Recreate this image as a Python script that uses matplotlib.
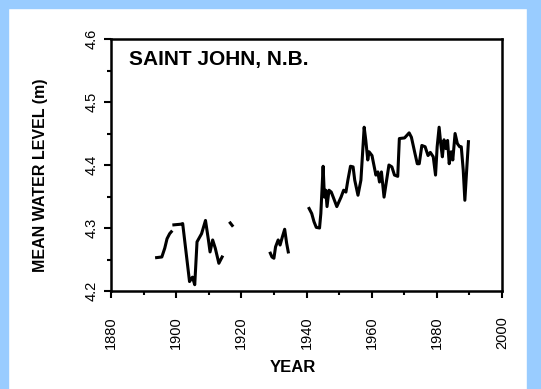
import matplotlib
matplotlib.use("Agg")
import matplotlib.pyplot as plt
import numpy as np
from matplotlib.patches import Rectangle

nan = np.nan

# annual mean water level, nan marks gaps in the record
years = [1894.0, 1895.6, 1896.5, 1897.2, 1898.0, 1898.5, nan,
         1899.3, 1901.4, 1902.0, 1904.1, 1905.0, 1905.7, 1906.4, 1907.8, 1909.0,
         1909.9, 1910.4, 1911.2, 1912.0, 1913.1, 1914.1, nan,
         1916.6, 1917.2, nan,
         1928.9, 1929.4, 1930.0, 1930.5, 1931.3, 1931.9, 1932.6, 1933.3, 1933.9, 1934.4, nan,
         1940.8, 1941.6, 1942.3, 1943.0, 1944.0, 1944.4, 1945.1, 1945.5, 1945.9,
         1946.3, 1946.9, 1947.6, 1948.2, 1949.3, 1950.6, 1951.4, 1952.1, 1952.7,
         1953.5, 1954.3, 1954.8, 1955.8, 1956.7, 1957.7, 1958.2, 1958.8, 1959.2,
         1960.1, 1960.6, 1961.3, 1961.9, 1962.4, 1963.0, 1963.8, 1964.5, 1965.3,
         1966.2, 1967.0, 1968.0, 1968.5, 1970.1, 1971.5, 1972.2, 1973.3, 1974.0,
         1974.6, 1975.4, 1976.4, 1977.3, 1978.0, 1978.9, 1979.6, 1980.1, 1980.7,
         1981.2, 1981.7, 1982.2, 1982.8, 1983.3, 1983.8, 1984.4, 1984.9, 1985.6,
         1986.3, 1987.0, 1987.5, 1988.1, 1988.6, 1989.1, 1989.7]
levels = [4.253, 4.254, 4.268, 4.283, 4.291, 4.294, nan,
          4.305, 4.306, 4.307, 4.215, 4.222, 4.210, 4.278, 4.291, 4.312,
          4.281, 4.262, 4.281, 4.268, 4.244, 4.254, nan,
          4.308, 4.304, nan,
          4.260, 4.254, 4.252, 4.270, 4.281, 4.273, 4.286, 4.298, 4.276, 4.262, nan,
          4.331, 4.323, 4.310, 4.301, 4.300, 4.323, 4.398, 4.349, 4.360,
          4.334, 4.360, 4.357, 4.349, 4.334, 4.349, 4.360, 4.357, 4.376,
          4.398, 4.397, 4.376, 4.352, 4.376, 4.460, 4.439, 4.408, 4.421,
          4.415, 4.402, 4.384, 4.389, 4.373, 4.389, 4.349, 4.373, 4.400,
          4.397, 4.384, 4.382, 4.442, 4.443, 4.451, 4.444, 4.418, 4.402,
          4.402, 4.431, 4.429, 4.415, 4.420, 4.413, 4.384, 4.429, 4.460,
          4.434, 4.413, 4.440, 4.426, 4.439, 4.402, 4.421, 4.408, 4.450,
          4.434, 4.429, 4.429, 4.392, 4.344, 4.387, 4.437]

xticks = [1880, 1900, 1920, 1940, 1960, 1980, 2000]
yticks = [4.2, 4.3, 4.4, 4.5, 4.6]

plt.rcParams['font.family'] = ['Liberation Sans', 'DejaVu Sans']

fig = plt.figure(figsize=(5.41, 3.89), dpi=100)
fig.patch.set_facecolor("white")
blue = "#99ccff"
# light blue frame around the scanned figure
fig.patches.append(Rectangle((0, 0), 8 / 541, 1, transform=fig.transFigure, color=blue, zorder=-1))
fig.patches.append(Rectangle((0, 1 - 8 / 389), 1, 8 / 389, transform=fig.transFigure, color=blue, zorder=-1))
fig.patches.append(Rectangle((527 / 541, 0), 14 / 541, 1, transform=fig.transFigure, color=blue, zorder=-1))

ax = fig.add_axes([111 / 541, 1 - 291 / 389, 391 / 541, 252 / 389])
ax.plot(years, levels, color="black", lw=2.2)

ax.set_xlim(1880, 2000)
ax.set_ylim(4.2, 4.6)
ax.set_xticks(xticks)
ax.set_xticks(np.arange(1890, 2000, 20), minor=True)
ax.set_yticks(yticks)
ax.set_yticks([4.25, 4.35, 4.45, 4.55], minor=True)
ax.set_yticklabels([f"{v:.1f}" for v in yticks], rotation=90, va="center")
ax.set_xticklabels([str(v) for v in xticks], rotation=90)
ax.tick_params(which="major", direction="out", length=5, width=1.5, labelsize=10.5)
ax.tick_params(axis="x", which="major", pad=13)
ax.tick_params(axis="y", which="major", pad=4)
ax.tick_params(which="minor", direction="out", length=3, width=1.5)
for s in ax.spines.values():
    s.set_linewidth(1.8)

ax.set_xlabel("YEAR", fontsize=12, fontweight="bold")
ax.set_ylabel("MEAN WATER LEVEL (m)", fontsize=11.5, fontweight="bold")
ax.xaxis.set_label_coords(0.465, -0.275)
ax.yaxis.set_label_coords(-0.162, 0.46)
ax.text(0.045, 0.917, "SAINT JOHN, N.B.", transform=ax.transAxes, fontsize=15,
        fontweight="bold", va="center", ha="left")

fig.savefig("out.png", dpi=100)
